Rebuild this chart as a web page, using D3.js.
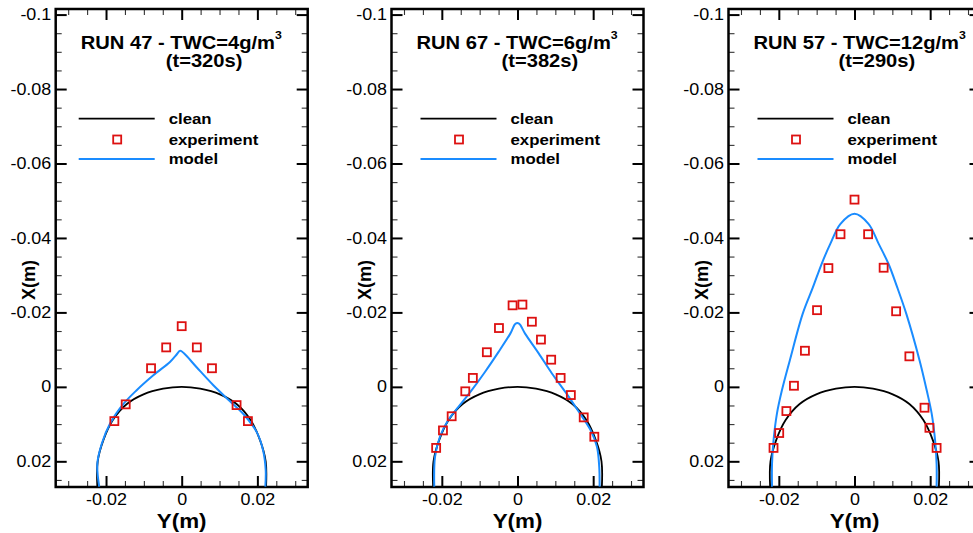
<!DOCTYPE html>
<html>
<head>
<meta charset="utf-8">
<script src="https://cdn.jsdelivr.net/npm/d3@7"></script>
<style>
  body { margin: 0; background: #fff; }
  svg { display: block; font-family: "Liberation Sans", Arial, Helvetica, sans-serif; }
</style>
</head>
<body>
<svg id="chart" width="973" height="533"></svg>
<script>
// panel titles
const runTitles = ["RUN 47 - TWC=4g/m", "RUN 67 - TWC=6g/m", "RUN 57 - TWC=12g/m"];
const runTimes = ["(t=320s)", "(t=382s)", "(t=290s)"];
const legendLabels = ["clean", "experiment", "model"];

// axis ticks
const xTicks = [-0.02, 0, 0.02];
const xTickLabels = ["-0.02", "0", "0.02"];
const xMinor = [-0.03, -0.025, -0.015, -0.01, -0.005, 0.005, 0.01, 0.015, 0.025, 0.03];
const yTicks = [-0.1, -0.08, -0.06, -0.04, -0.02, 0, 0.02];
const yTickLabels = ["-0.1", "-0.08", "-0.06", "-0.04", "-0.02", "0", "0.02"];
const yMinor = [-0.095, -0.09, -0.085, -0.075, -0.07, -0.065, -0.055, -0.05, -0.045,
                -0.035, -0.03, -0.025, -0.015, -0.01, -0.005, 0.005, 0.01, 0.015, 0.025];

// clean profile, [Y, X] pairs (same in every panel)
const clean = [[-0.0223, 0.0268], [-0.0222, 0.020], [-0.0207, 0.0143], [-0.0182, 0.0089],
  [-0.0145, 0.0046], [-0.0101, 0.0020], [-0.0049, 0.0005], [0, 0],
  [0.0049, 0.0005], [0.0101, 0.0020], [0.0145, 0.0046], [0.0182, 0.0089],
  [0.0207, 0.0143], [0.0222, 0.020], [0.0223, 0.0268]];

// model ice shapes, [Y, X]
const model47 = [[-0.0218, 0.0268], [-0.0223, 0.0206], [-0.0211, 0.0152], [-0.0189, 0.0098],
  [-0.0154, 0.0046], [-0.0119, 0.0009], [-0.0075, -0.0031], [-0.0031, -0.0067],
  [-0.0015, -0.0085], [-0.0004, -0.0097], [0.0006, -0.0090], [0.0040, -0.0052],
  [0.0083, -0.0005], [0.0127, 0.0038], [0.0163, 0.0073], [0.0198, 0.0121],
  [0.0215, 0.0170], [0.0222, 0.0224], [0.0221, 0.0268]];
const model67 = [[-0.0220, 0.0268], [-0.0218, 0.0188], [-0.0205, 0.0134], [-0.0183, 0.0089],
  [-0.0156, 0.0054], [-0.0121, 0.0009], [-0.0086, -0.0040], [-0.0050, -0.0094],
  [-0.0019, -0.0143], [-0.0005, -0.0170], [0.0004, -0.0170], [0.0020, -0.0143],
  [0.0056, -0.0090], [0.0091, -0.0036], [0.0126, 0.0013], [0.0162, 0.0067],
  [0.0193, 0.0116], [0.0210, 0.0161], [0.0216, 0.0215], [0.0217, 0.0268]];
const model57 = [[-0.0218, 0.0268], [-0.0218, 0.0207], [-0.0214, 0.0144], [-0.0205, 0.0072],
  [-0.0192, 0.0010], [-0.0171, -0.0071], [-0.0137, -0.0196],
  [-0.0110, -0.0267], [-0.0087, -0.0330], [-0.0064, -0.0384], [-0.0037, -0.0438],
  [0, -0.0465], [0.0037, -0.0438], [0.0064, -0.0384], [0.0090, -0.0330],
  [0.0113, -0.0267], [0.0137, -0.0196], [0.0172, -0.0071],
  [0.0191, 0.0010], [0.0204, 0.0072], [0.0213, 0.0144], [0.0217, 0.0207], [0.0217, 0.0268]];

// experiment points, [Y, X]
const exp47 = [[0, -0.0163], [-0.0041, -0.0106], [0.0040, -0.0106], [-0.0081, -0.0050],
  [0.0080, -0.0050], [-0.0148, 0.0047], [0.0145, 0.0049], [-0.0178, 0.0092], [0.0175, 0.0092]];
const exp67 = [[-0.0013, -0.0219], [0.0013, -0.0221], [-0.0049, -0.0158], [0.0038, -0.0175],
  [-0.0081, -0.0093], [0.0062, -0.0127], [-0.0118, -0.0024], [0.0089, -0.0073],
  [-0.0138, 0.0012], [0.0114, -0.0024], [-0.0174, 0.0079], [0.0141, 0.0022],
  [-0.0197, 0.0117], [0.0175, 0.0082], [-0.0215, 0.0164], [0.0203, 0.0134]];
const exp57 = [[0, -0.0503], [-0.0037, -0.0410], [0.0036, -0.0410], [-0.0069, -0.0319],
  [0.0077, -0.0320], [-0.0099, -0.0206], [0.0110, -0.0203], [-0.0131, -0.0097],
  [0.0145, -0.0082], [-0.0160, -0.0003], [0.0185, 0.0056], [-0.0180, 0.0065],
  [0.0198, 0.0110], [-0.0199, 0.0124], [0.0217, 0.0164], [-0.0214, 0.0164]];

const models = [model47, model67, model57];
const experiments = [exp47, exp67, exp57];

// layout
const panelLeft = [55.7, 391.5, 728.5];
const panelW = 252, frameTop = 9, frameBottom = 487;
const legendOffset = [23, 29, 29];
const stretch = "scale(1.12,1)";
const blue = "#1a8cff", red = "#dd1111";

const svg = d3.select("#chart");

function stretchedText(parent, x, y, txt) {
  return parent.append("g").attr("transform", `translate(${x},${y})`)
    .append("text").attr("transform", stretch).text(txt);
}

runTitles.forEach((title, p) => {
  const left = panelLeft[p];
  const x = d3.scaleLinear().domain([-0.0333, 0.0333]).range([left, left + panelW]);
  const y = d3.scaleLinear().domain([-0.1015, 0.0269]).range([frameTop, frameBottom]);
  const g = svg.append("g");

  const clipId = "clip" + p;
  svg.append("clipPath").attr("id", clipId).append("rect")
    .attr("x", left).attr("y", frameTop).attr("width", panelW).attr("height", frameBottom - frameTop);

  // axes: ticks drawn inward
  const axes = [
    [d3.axisBottom(x).tickValues(xTicks).tickFormat((d, i) => xTickLabels[i]).tickSize(-11).tickPadding(7), `translate(0,${frameBottom})`, true],
    [d3.axisBottom(x).tickValues(xMinor).tickFormat("").tickSize(-6), `translate(0,${frameBottom})`, false],
    [d3.axisTop(x).tickValues(xTicks).tickFormat("").tickSize(-11), `translate(0,${frameTop})`, true],
    [d3.axisTop(x).tickValues(xMinor).tickFormat("").tickSize(-6), `translate(0,${frameTop})`, false],
    [d3.axisLeft(y).tickValues(yTicks).tickFormat((d, i) => yTickLabels[i]).tickSize(-11).tickPadding(4), `translate(${left},0)`, true],
    [d3.axisLeft(y).tickValues(yMinor).tickFormat("").tickSize(-6), `translate(${left},0)`, false],
    [d3.axisRight(y).tickValues(yTicks).tickFormat("").tickSize(-11), `translate(${left + panelW},0)`, true],
    [d3.axisRight(y).tickValues(yMinor).tickFormat("").tickSize(-6), `translate(${left + panelW},0)`, false]
  ];
  axes.forEach(([axis, tr, major]) => {
    const a = g.append("g").attr("transform", tr).call(axis);
    a.attr("font-family", null).attr("font-size", 16);
    a.select(".domain").remove();
    a.selectAll(".tick line").attr("stroke", major ? "#000" : "#333").attr("stroke-width", major ? 2 : 1.1);
    a.selectAll(".tick text").attr("fill", "#000").attr("transform", stretch);
  });

  // frame
  g.append("rect").attr("x", left).attr("y", frameTop).attr("width", panelW).attr("height", frameBottom - frameTop)
    .attr("fill", "none").attr("stroke", "#000").attr("stroke-width", 2.5);

  const line = d3.line().x(d => x(d[0])).y(d => y(d[1])).curve(d3.curveCatmullRom.alpha(0.5));
  const plot = g.append("g").attr("clip-path", `url(#${clipId})`);

  plot.append("path").datum(clean).attr("d", line)
    .attr("fill", "none").attr("stroke", "#000").attr("stroke-width", 1.8);
  plot.append("path").datum(models[p]).attr("d", line)
    .attr("fill", "none").attr("stroke", blue).attr("stroke-width", 2);
  plot.selectAll(".exp").data(experiments[p]).enter().append("rect")
    .attr("class", "exp")
    .attr("x", d => x(d[0]) - 4).attr("y", d => y(d[1]) - 4)
    .attr("width", 8).attr("height", 8)
    .attr("fill", "none").attr("stroke", red).attr("stroke-width", 1.8);

  // title
  const t1 = stretchedText(g, left + 25, 48.5, title)
    .attr("font-size", 18).attr("font-weight", "bold");
  t1.append("tspan").attr("font-size", 11).attr("dy", -10).text("3");
  stretchedText(g, left + 110, 66.5, runTimes[p]).attr("font-size", 18).attr("font-weight", "bold");

  // legend
  const lx = left + legendOffset[p];
  const ly = [118.7, 139.5, 159];
  g.append("line").attr("x1", lx).attr("x2", lx + 76).attr("y1", ly[0]).attr("y2", ly[0])
    .attr("stroke", "#000").attr("stroke-width", 1.8);
  g.append("rect").attr("x", lx + 38.5 - 4).attr("y", ly[1] - 4).attr("width", 8).attr("height", 8)
    .attr("fill", "none").attr("stroke", red).attr("stroke-width", 1.8);
  g.append("line").attr("x1", lx).attr("x2", lx + 76).attr("y1", ly[2]).attr("y2", ly[2])
    .attr("stroke", blue).attr("stroke-width", 2);
  legendLabels.forEach((lab, i) => {
    stretchedText(g, lx + 90, ly[i], lab)
      .attr("dy", "0.35em").attr("font-size", 15).attr("font-weight", "bold");
  });

  // axis titles
  stretchedText(g, x(0), 527.5, "Y(m)")
    .attr("text-anchor", "middle").attr("font-size", 20).attr("font-weight", "bold");
  g.append("text").attr("transform", `translate(${left - 21},280) rotate(-90)`)
    .attr("text-anchor", "middle").attr("font-size", 18).attr("font-weight", "bold").text("X(m)");
});
</script>
</body>
</html>
